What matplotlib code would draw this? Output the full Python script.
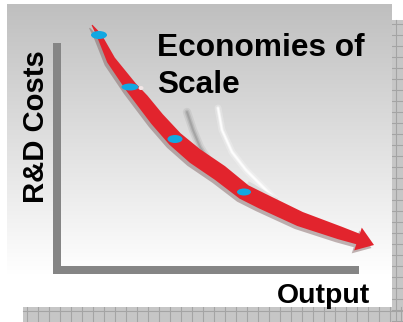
import numpy as np
import matplotlib
matplotlib.use("Agg")
import matplotlib.pyplot as plt
from matplotlib.patches import Polygon, Ellipse, Rectangle

# ---- data (in picture units) ----
curve_x = [92, 99, 111, 131, 142, 157, 175, 195, 220, 244, 262, 300, 340, 358]
curve_y = [25, 35, 60, 87, 100, 119, 139, 156, 173, 192, 201, 219, 233, 239]
curve_w = [1, 5, 9, 12, 14, 15, 16, 17, 17, 16, 16, 15, 13, 11]
arrow_tip = (374, 245)

milestone_x = [99, 130, 175, 244]
milestone_y = [35, 87, 139, 192]

title_lines = ["Economies of", "Scale"]
y_label = "R&D Costs"
x_label = "Output"

W, H = 403, 322
fig = plt.figure(figsize=(W / 100, H / 100), dpi=100)
ax = fig.add_axes([0, 0, 1, 1])
ax.set_xlim(0, W)
ax.set_ylim(H, 0)
ax.axis("off")
fig.patch.set_facecolor("white")

FONT = ["Liberation Sans", "DejaVu Sans"]

# shadow strips with grid pattern
def grid_strip(x0, y0, x1, y1):
    ax.add_patch(Rectangle((x0, y0), x1 - x0, y1 - y0, facecolor="#c6c6c6",
                           edgecolor="none", zorder=0))
    xs = np.arange(x0 + 4, x1, 11)
    ys = np.arange(y0 + 4, y1, 11)
    for xv in xs:
        ax.plot([xv, xv], [y0, y1], color="#a4a4a4", lw=0.8, zorder=0.1)
    for yv in ys:
        ax.plot([x0, x1], [yv, yv], color="#a4a4a4", lw=0.8, zorder=0.1)

grid_strip(392, 20, 403, 322)
grid_strip(23, 307, 403, 322)

# gradient panel
grad = np.linspace(0, 1, 256)[:, None]
top = np.array([0.75, 0.75, 0.75])
bot = np.array([1.0, 1.0, 1.0])
ramp = np.clip(grad * 1.12, 0, 1)
img = top[None, None, :] * (1 - ramp[..., None]) + bot[None, None, :] * ramp[..., None]
img = np.repeat(img, 2, axis=1)
ax.imshow(img, extent=(7, 392, 307, 4), aspect="auto", zorder=0.5, interpolation="bilinear")

# axis bars
ax.add_patch(Rectangle((53, 43), 8, 231, facecolor="#858585", edgecolor="none", zorder=1))
ax.add_patch(Rectangle((53, 266), 306, 8, facecolor="#858585", edgecolor="none", zorder=1))

# motion streaks
gx = [187, 193, 200, 208, 218]
gy = [112, 130, 147, 160, 172]
for lw, a in [(6, 0.12), (3.5, 0.2), (1.5, 0.3)]:
    ax.plot(gx, gy, color="#707070", lw=lw, alpha=a, solid_capstyle="round", zorder=1.5)
wx = [218, 222, 232, 246, 262, 276]
wy = [108, 130, 152, 170, 186, 200]
for lw, a in [(5, 0.25), (2.5, 0.5), (1.2, 0.9)]:
    ax.plot(wx, wy, color="white", lw=lw, alpha=a, solid_capstyle="round", zorder=1.5)
ax.plot([250, 262, 274], [186, 193, 200], color="#808080", lw=5, alpha=0.15, zorder=1.5)

# band polygon
cx = np.array(curve_x, float)
cy = np.array(curve_y, float)
cw = np.array(curve_w, float)
dx = np.gradient(cx)
dy = np.gradient(cy)
n = np.hypot(dx, dy)
nx, ny = -dy / n, dx / n
left = np.column_stack([cx + nx * cw / 2, cy + ny * cw / 2])
right = np.column_stack([cx - nx * cw / 2, cy - ny * cw / 2])
# arrowhead
bx, by = cx[-1], cy[-1]
tx, ty = arrow_tip
hw = 12
head = [(bx + nx[-1] * hw, by + ny[-1] * hw), (tx, ty), (bx - nx[-1] * hw, by - ny[-1] * hw)]
pts = np.vstack([left, head, right[::-1]])

shadow = pts + np.array([-2.5, 3.0])
ax.add_patch(Polygon(shadow, closed=True, facecolor="#7a5a5a", edgecolor="none",
                     alpha=0.45, zorder=2))
ax.add_patch(Polygon(pts, closed=True, facecolor="#e2242d", edgecolor="none", zorder=3))

# small highlight next to the second dot
ax.add_patch(Ellipse((141, 88), 5, 4, facecolor="#f2e6e6", edgecolor="none", zorder=3.5))

# milestone dots
sizes = [(16, 8), (17, 7), (15, 8), (14, 7)]
for (mx, my), (ew, eh) in zip(zip(milestone_x, milestone_y), sizes):
    ax.add_patch(Ellipse((mx, my), ew, eh, facecolor="#12a8e2", edgecolor="none", zorder=4))

# texts
ax.text(157, 56, title_lines[0], fontsize=22.8, fontweight="bold", family=FONT,
        va="baseline", ha="left", color="black", zorder=5)
ax.text(157, 93, title_lines[1], fontsize=22.8, fontweight="bold", family=FONT,
        va="baseline", ha="left", color="black", zorder=5)
ax.text(277, 303, x_label, fontsize=20.4, fontweight="bold", family=FONT,
        va="baseline", ha="left", color="black", zorder=5)
ax.text(43.5, 127, y_label, fontsize=21.1, fontweight="bold", family=FONT,
        rotation=90, rotation_mode="anchor", va="baseline", ha="center",
        color="black", zorder=5)

fig.savefig("out.png", dpi=100)
